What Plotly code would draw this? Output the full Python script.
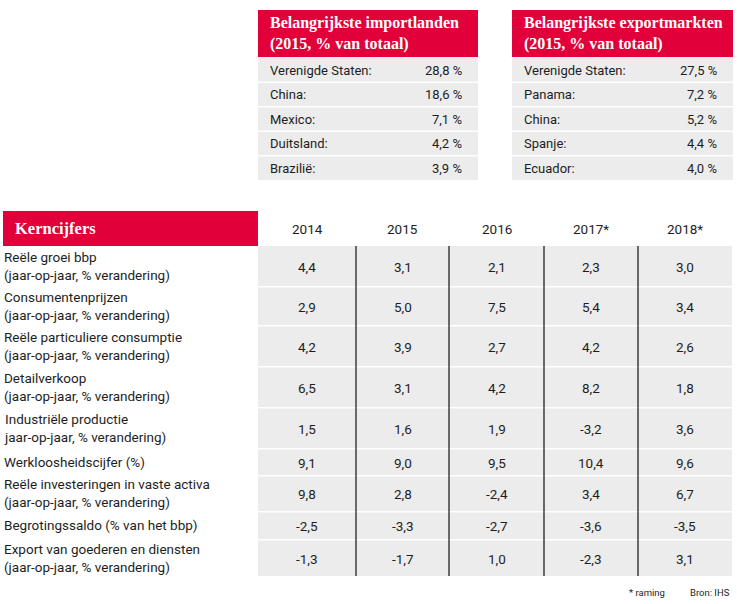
import plotly.graph_objects as go

# ---------------- data ----------------
imp_title = "Belangrijkste importlanden<br>(2015, % van totaal)"
imp_countries = ["Verenigde Staten:", "China:", "Mexico:", "Duitsland:", "Brazilië:"]
imp_values = [28.8, 18.6, 7.1, 4.2, 3.9]

exp_title = "Belangrijkste exportmarkten<br>(2015, % van totaal)"
exp_countries = ["Verenigde Staten:", "Panama:", "China:", "Spanje:", "Ecuador:"]
exp_values = [27.5, 7.2, 5.2, 4.4, 4.0]

main_title = "Kerncijfers"
years = ["2014", "2015", "2016", "2017*", "2018*"]
indicators = [
    "Reële groei bbp<br>(jaar-op-jaar, % verandering)",
    "Consumentenprijzen<br>(jaar-op-jaar, % verandering)",
    "Reële particuliere consumptie<br>(jaar-op-jaar, % verandering)",
    "Detailverkoop<br>(jaar-op-jaar, % verandering)",
    "Industriële productie<br>jaar-op-jaar, % verandering)",
    "Werkloosheidscijfer (%)",
    "Reële investeringen in vaste activa<br>(jaar-op-jaar, % verandering)",
    "Begrotingssaldo (% van het bbp)",
    "Export van goederen en diensten<br>(jaar-op-jaar, % verandering)",
]
v2014 = [4.4, 2.9, 4.2, 6.5, 1.5, 9.1, 9.8, -2.5, -1.3]
v2015 = [3.1, 5.0, 3.9, 3.1, 1.6, 9.0, 2.8, -3.3, -1.7]
v2016 = [2.1, 7.5, 2.7, 4.2, 1.9, 9.5, -2.4, -2.7, 1.0]
v2017 = [2.3, 5.4, 4.2, 8.2, -3.2, 10.4, 3.4, -3.6, -2.3]
v2018 = [3.0, 3.4, 2.6, 1.8, 3.6, 9.6, 6.7, -3.5, 3.1]
footnote = "* raming"
source = "Bron: IHS"

# ---------------- styling / layout ----------------
W, H = 737, 604
RED = "#e2003a"
GRAY = "#ececec"
TXT = "#1e1e1e"
SANS = "Roboto, Arial, sans-serif"
SERIF = "Liberation Serif, Times New Roman, serif"

def fmt(v, pct=False):
    s = f"{v:.1f}".replace(".", ",")
    return s + " %" if pct else s

shapes = []
annotations = []

def rect(x0, y0, x1, y1, color):
    shapes.append(dict(type="rect", xref="x", yref="y", x0=x0, x1=x1, y0=y0, y1=y1,
                       fillcolor=color, line=dict(width=0), layer="below"))

def text(x, y, s, size=13, color=TXT, family=SANS, xanchor="left", bold=False):
    if bold:
        s = "<b>" + s + "</b>"
    annotations.append(dict(x=x, y=y, xref="x", yref="y", text=s, showarrow=False,
                            xanchor=xanchor, yanchor="middle", align=xanchor if xanchor != "center" else "center",
                            font=dict(size=size, color=color, family=family)))

# small tables
small_row_edges = [57, 81.5, 106, 130.5, 155, 180]
def small_table(x0, x1, title, countries, values):
    rect(x0, 10, x1, 57, RED)
    text(x0 + 10, 33.5, title, size=16, color="white", family=SERIF, bold=True)
    for i, (c, v) in enumerate(zip(countries, values)):
        y0 = small_row_edges[i] + (1.5 if i > 0 else 0)
        y1 = small_row_edges[i + 1]
        rect(x0, y0, x1, y1, GRAY)
        ym = (small_row_edges[i] + small_row_edges[i + 1]) / 2 + 1
        text(x0 + 10, ym, c)
        text(x1 - 14, ym, fmt(v, pct=True), xanchor="right")

small_table(258, 478, imp_title, imp_countries, imp_values)
small_table(512, 733, exp_title, exp_countries, exp_values)

# main table
col_edges = [258, 356, 449, 544, 638, 732]
row_edges = [246, 286, 325, 366, 407, 448, 475, 511, 539, 576]
rect(3, 211, 258, 246, RED)
text(13, 228.5, main_title, size=16.5, color="white", family=SERIF, bold=True)

cols = [v2014, v2015, v2016, v2017, v2018]
for j, yr in enumerate(years):
    text((col_edges[j] + col_edges[j + 1]) / 2, 228.5, yr, size=13.5, xanchor="center")

for i, lab in enumerate(indicators):
    y0 = row_edges[i] + (1.5 if i > 0 else 0)
    y1 = row_edges[i + 1]
    rect(col_edges[0], y0, col_edges[-1], y1, GRAY)
    ym = (row_edges[i] + row_edges[i + 1]) / 2
    text(2, ym, lab, size=13.5)
    for j, col in enumerate(cols):
        text((col_edges[j] + col_edges[j + 1]) / 2, ym + 1, fmt(col[i]), size=13.5, xanchor="center")

for xv in col_edges[1:-1]:
    shapes.append(dict(type="line", xref="x", yref="y", x0=xv, x1=xv, y0=row_edges[0], y1=row_edges[-1],
                       line=dict(color="#111111", width=1.2), layer="above"))

text(667, 592, footnote, size=9.5, xanchor="right")
text(732, 592, source, size=9.5, xanchor="right")

fig = go.Figure()
fig.add_trace(go.Scatter(x=[0, W], y=[0, H], mode="markers", marker=dict(opacity=0), hoverinfo="skip",
                         showlegend=False))
fig.update_layout(
    width=W, height=H, margin=dict(l=0, r=0, t=0, b=0),
    paper_bgcolor="white", plot_bgcolor="white",
    xaxis=dict(range=[0, W], visible=False, fixedrange=True),
    yaxis=dict(range=[H, 0], visible=False, fixedrange=True),
    shapes=shapes, annotations=annotations, showlegend=False,
)
fig.write_html("out.html", config={"displayModeBar": False},
               post_script="document.body.style.margin='0';document.body.style.overflow='hidden';")
